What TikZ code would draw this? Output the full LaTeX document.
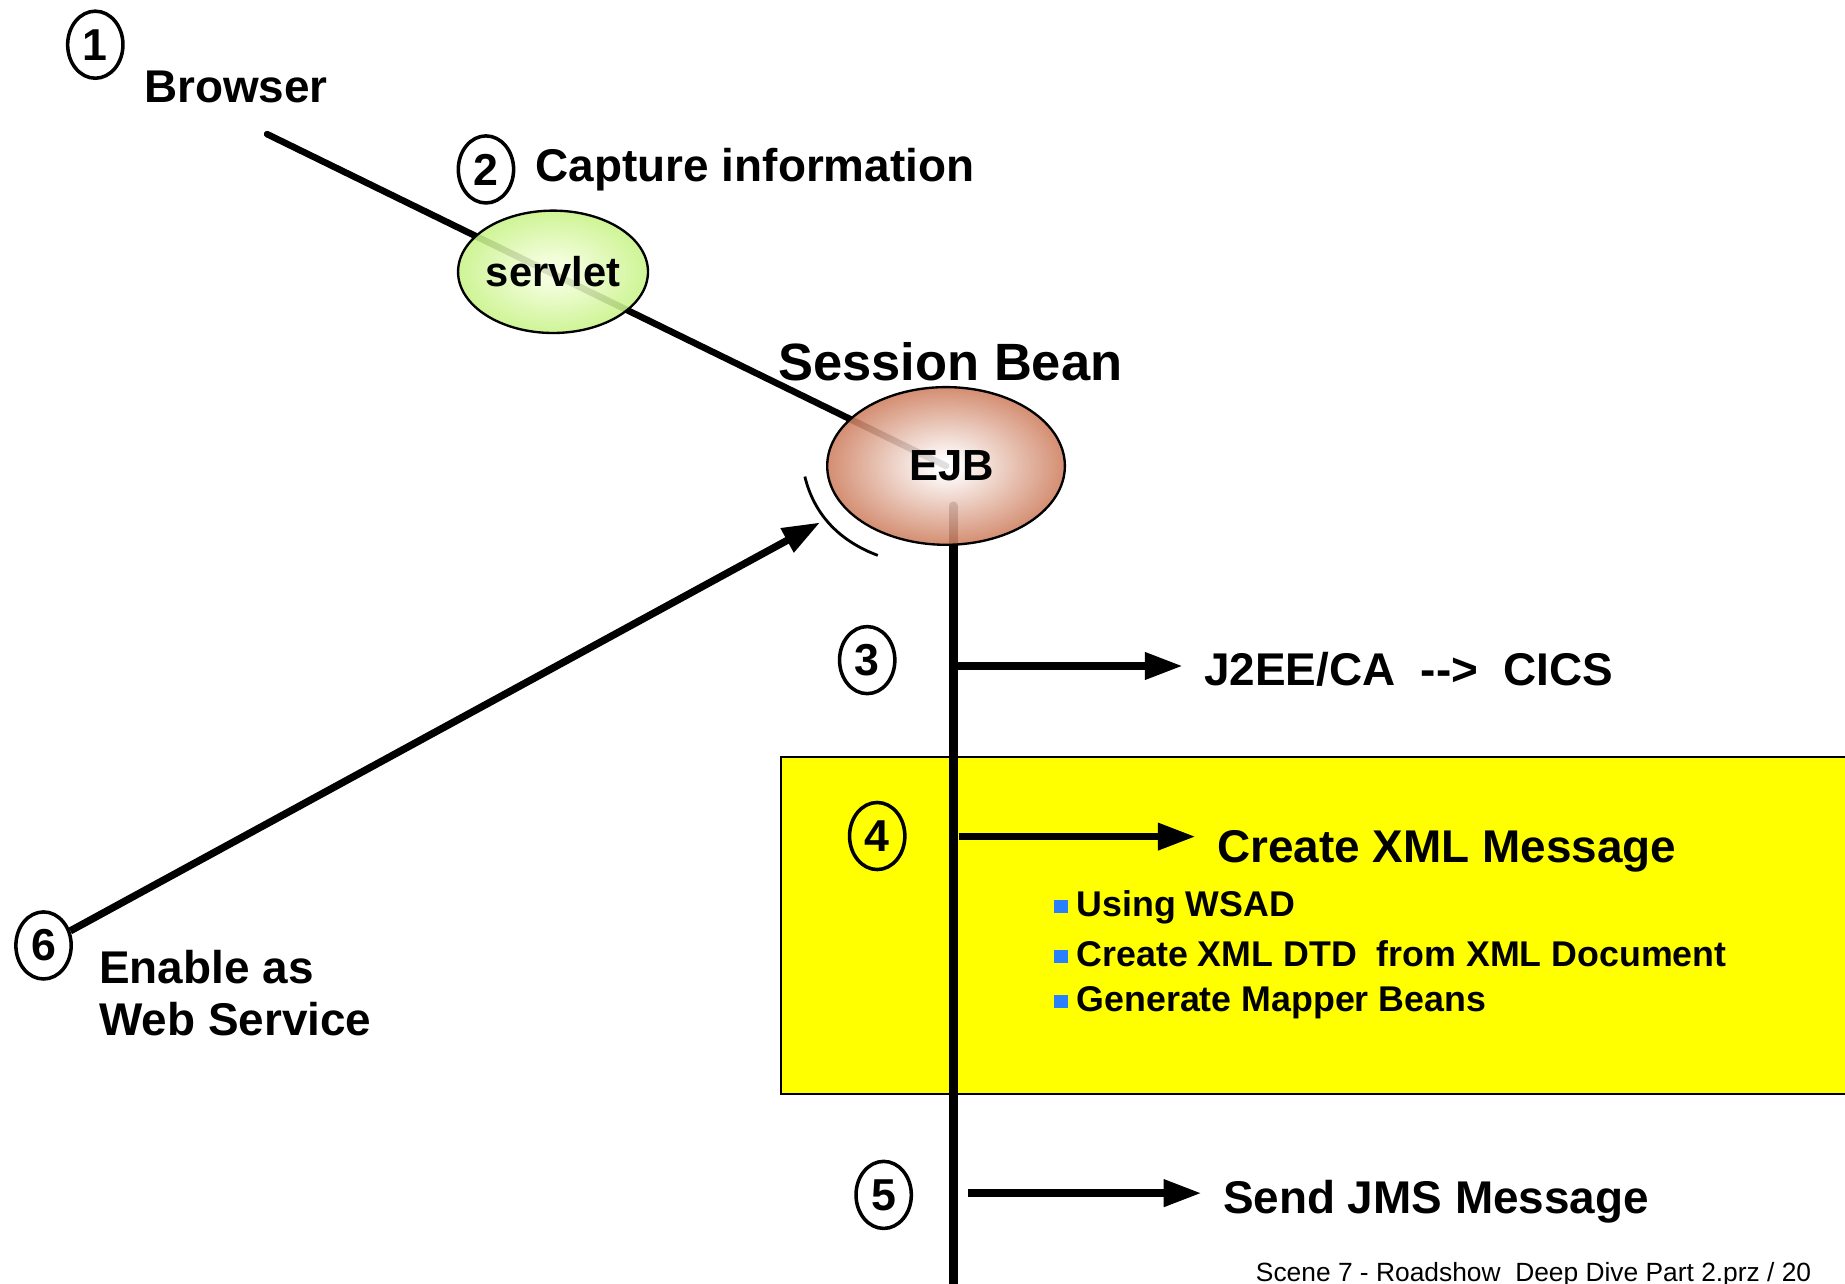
\documentclass[tikz,border=0pt]{standalone}
\usepackage{fontspec}
\setmainfont{Liberation Sans}
\usetikzlibrary{shapes.geometric}
\usetikzlibrary{arrows.meta}
\usetikzlibrary{backgrounds}

\definecolor{boxyellow}{RGB}{255,255,0}
\definecolor{servletedge}{RGB}{190,240,115}
\definecolor{servletmid}{RGB}{244,255,220}
\definecolor{ejbedge}{RGB}{200,110,74}
\definecolor{bulletblue}{RGB}{40,128,255}

\pgfdeclareradialshading{servletshade}{\pgfpoint{0bp}{0bp}}{color(0bp)=(servletmid); color(4bp)=(servletmid); color(30bp)=(servletedge); color(50bp)=(servletedge)}
\pgfdeclareradialshading{ejbshade}{\pgfpoint{0bp}{0bp}}{color(0bp)=(white); color(2bp)=(white); color(28bp)=(ejbedge); color(50bp)=(ejbedge)}

\tikzset{
  stepnum/.style={draw, ellipse, line width=1.5pt, minimum width=23.5pt,
                  minimum height=28.5pt, inner sep=0pt,
                  font=\bfseries\fontsize{19}{22}\selectfont},
  lbl/.style={anchor=base west, inner sep=0pt,
              font=\bfseries\fontsize{19.5}{23}\selectfont},
  target/.style={lbl, inner xsep=9pt},
  bean/.style={draw, ellipse, line width=1pt, shade, fill opacity=0.88,
               text opacity=1, inner sep=0pt},
  wire/.style={line width=2.8pt, line cap=round},
  trunk/.style={line width=3.8pt, line cap=round},
  flow/.style={line width=3.1pt, -{Triangle[length=16pt,width=11pt]}},
  bulletline/.style={anchor=base west, inner sep=0pt,
                     font=\bfseries\fontsize{15.2}{17}\selectfont}
}
\newcommand{\sqbullet}{\raisebox{1.5pt}{\textcolor{bulletblue}{\rule{6pt}{5.5pt}}}\hspace{3.8pt}}

\begin{document}
\begin{tikzpicture}[x=0.5pt,y=-0.5pt]
\useasboundingbox (0,0) rectangle (1568,1091);

% components
\node[bean, shading=servletshade, minimum width=80pt, minimum height=52pt,
      font=\bfseries\fontsize{17.7}{20}\selectfont] (servlet) at (470,231) {servlet};
\node[bean, shading=ejbshade, minimum width=101pt, minimum height=67pt,
      font=\bfseries\fontsize{18.5}{21}\selectfont] (ejb) at (804,396) {\hspace{5pt}EJB};

% free ends
\coordinate (bstart) at (227,114);
\coordinate (vtop) at (810,430);
\coordinate (vbot) at (810,1100);
\coordinate (tip6) at (697,444);
\coordinate (s3) at (808,566);
\coordinate (s4) at (815,711);
\coordinate (s5) at (823,1014);

\begin{scope}[on background layer]
\fill[white] (0,0) rectangle (1568,1091);
\draw[fill=boxyellow, line width=0.8pt] (664,643) rectangle (1590,930);
\draw[wire] (bstart) -- (ejb.center);
\draw[trunk] (vtop) -- (vbot);
\end{scope}

% 1 browser
\node[stepnum] (n1) at (81,38) {1};
\node[lbl] (browser) at (122,87) {Browser};

% 2 servlet
\node[stepnum] (n2) at (413,144) {2};
\node[lbl] (capture) at (455,154) {Capture information};

% session bean
\node[lbl, font=\bfseries\fontsize{22.3}{26}\selectfont] (session) at (661,323) {Session Bean};
\draw[line width=1.2pt] (684,405) .. controls (692,438) and (714,460) .. (746,472);

% 3
\node[stepnum] (n3) at (737,561) {3};
\node[target] (cics) at (1005,583) {J2EE/CA\ \ -{}-{}>\ \ CICS};
\draw[flow] (s3) -- (s3 -| cics.west);

% 4
\node[stepnum] (n4) at (745.5,710.5) {4};
\node[target] (xml) at (1016,733) {Create XML Message};
\draw[flow] (s4) -- (s4 -| xml.west);
\node[bulletline] (b1) at (895,779) {\sqbullet Using WSAD};
\node[bulletline] (b2) at (895,821) {\sqbullet Create XML DTD\ \ from XML Document};
\node[bulletline] (b3) at (895,860) {\sqbullet Generate Mapper Beans};

% 5
\node[stepnum] (n5) at (751,1015.5) {5};
\node[target] (jms) at (1021,1031) {Send JMS Message};
\draw[flow] (s5) -- (s5 -| jms.west);

% 6
\node[stepnum] (n6) at (37,803.5) {6};
\node[lbl] (enable) at (84,836) {Enable as};
\node[lbl] (websvc) at (84,880) {Web Service};
\draw[flow] (n6) -- (tip6);

\node[anchor=base west, inner sep=0pt, font=\fontsize{11.2}{13}\selectfont]
  (footer) at (1067,1089) {Scene 7 - Roadshow\ \ Deep Dive Part 2.prz / 20};
\end{tikzpicture}
\end{document}
